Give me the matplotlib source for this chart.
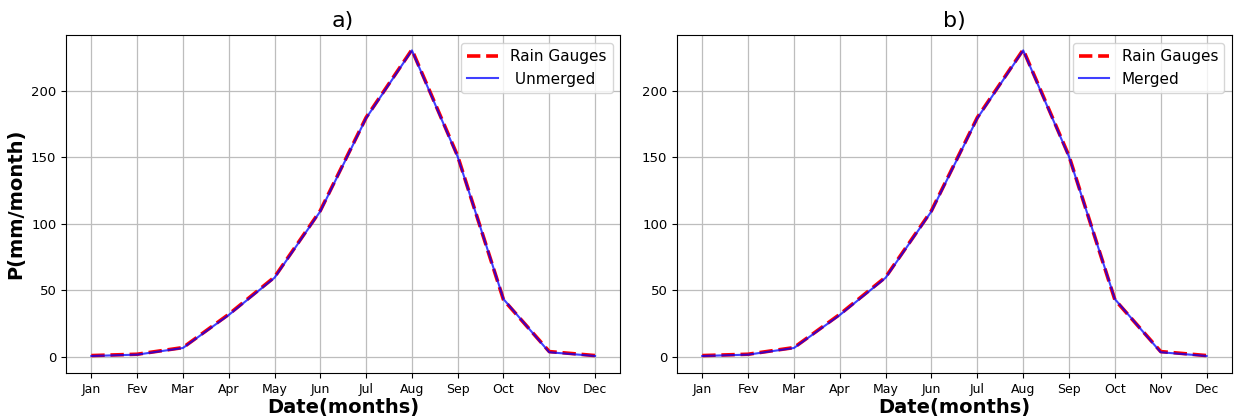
import matplotlib.pyplot as plt

months = ["Jan", "Fev", "Mar", "Apr", "May", "Jun", "Jul", "Aug", "Sep", "Oct", "Nov", "Dec"]
rain_gauges = [1, 2, 7, 32, 60, 110, 180, 231, 151, 43, 4, 1]
unmerged = [0.7, 1.7, 6.7, 31.5, 59.5, 109.5, 179.5, 230.5, 150.5, 43.5, 3.5, 0.7]
merged = [0.7, 1.7, 6.7, 31.5, 59.5, 109.5, 179.5, 230.5, 150.5, 43.5, 3.5, 0.7]


def draw(ax, other, other_label, title):
    x = range(len(months))
    ax.plot(x, rain_gauges, "r--", lw=2.6, label="Rain Gauges")
    ax.plot(x, other, color="blue", lw=1.5, alpha=0.75, label=other_label)
    ax.set_xticks(list(x))
    ax.set_xticklabels(months, fontsize=9)
    ax.tick_params(axis="y", labelsize=9.5)
    ax.set_yticks([0, 50, 100, 150, 200])
    ax.set_ylim(-12, 242)
    ax.grid(True, color="#bdbdbd", lw=0.9)
    ax.set_title(title, fontsize=16)
    ax.set_xlabel("Date(months)", fontsize=14, fontweight="bold", labelpad=2)
    ax.legend(loc="upper right", fontsize=11)


fig = plt.figure(figsize=(12.48, 4.18), dpi=100)
ax1 = fig.add_axes([0.053, 0.108, 0.444, 0.808])
ax2 = fig.add_axes([0.5425, 0.108, 0.4445, 0.808])

draw(ax1, unmerged, " Unmerged", "a)")
draw(ax2, merged, "Merged", "b)")
ax1.set_ylabel("P(mm/month)", fontsize=14, fontweight="bold")

fig.savefig("out.png", dpi=100)
